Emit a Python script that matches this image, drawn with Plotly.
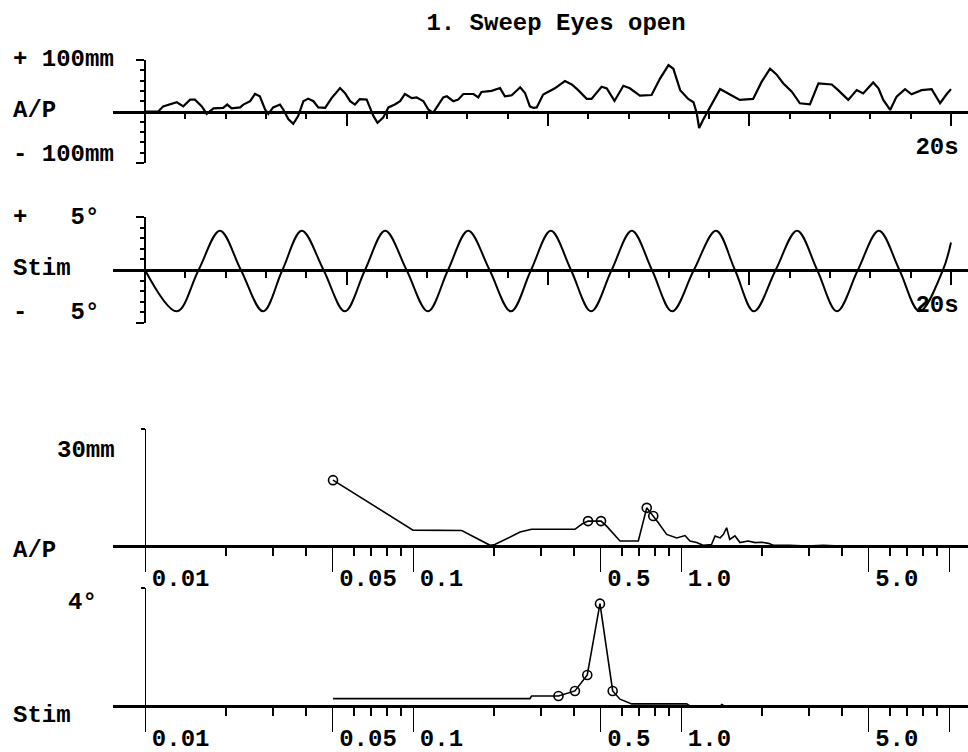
import plotly.graph_objects as go

# ---------------- data ----------------
# Panel 1: A/P sway trace over the 20 s sweep (mm)
ap_t = [0.0, 0.33, 0.45, 0.66, 0.79, 0.95, 1.12, 1.24, 1.41, 1.53,
        1.70, 1.94, 2.04, 2.15, 2.36, 2.44, 2.61, 2.73, 2.85, 2.98,
        3.06, 3.18, 3.35, 3.43, 3.56, 3.68, 3.80, 3.93, 4.05, 4.18,
        4.30, 4.47, 4.63, 4.84, 4.96, 5.09, 5.21, 5.33, 5.50, 5.58,
        5.67, 5.77, 5.91, 6.04, 6.20, 6.33, 6.45, 6.62, 6.74, 6.91,
        7.03, 7.15, 7.28, 7.40, 7.49, 7.65, 7.77, 7.90, 8.15, 8.27,
        8.35, 8.60, 8.81, 8.93, 9.10, 9.31, 9.43, 9.55, 9.64, 9.72,
        9.88, 10.01, 10.17, 10.42, 10.59, 10.75, 10.96, 11.08, 11.33, 11.46,
        11.65, 11.87, 12.03, 12.28, 12.57, 12.78, 12.99, 13.11, 13.28, 13.48,
        13.61, 13.69, 13.75, 13.85, 14.06, 14.27, 14.47, 14.76, 15.09, 15.30,
        15.51, 15.67, 15.84, 16.05, 16.25, 16.50, 16.71, 17.04, 17.20, 17.45,
        17.66, 17.82, 18.07, 18.20, 18.32, 18.49, 18.65, 18.86, 19.02, 19.27,
        19.52, 19.73, 19.89, 20.0]
ap_mm = [0, 0, 10, 15, 18, 10, 23, 23, 10, -4.5,
         6, 7, 13.5, 6, 8, 13.5, 20, 34, 29.5, 4,
         -4.5, 8, 13.5, 4, -15, -24, -9, 20, 25, 20,
         8, 7, 26, 45.5, 36, 20, 13.5, 24, 23, 8,
         -9, -22, -12, 8, 13.5, 20, 34, 26, 27.5, 20,
         4, -2.5, 13.5, 27.5, 29.5, 20, 23, 34, 34, 27.5,
         38, 40, 45.5, 29.5, 31.5, 47, 36, 10, 7, 8,
         33, 39, 45, 59, 52.5, 41.5, 24.5, 24.5, 48, 45,
         20.5, 50, 45, 31, 32, 64, 90, 83, 41.5, 24.5,
         18, -3, -32, -16, 13, 43.5, 35, 22.5, 24.5, 57.5,
         83, 72, 54.5, 38.5, 16, 14, 54.5, 52.5, 41.5, 22.5,
         41.5, 35, 56.5, 45, 22.5, 3, 29, 43.5, 33.5, 41.5,
         43.5, 16, 33.5, 43.5]

# Panel 2: stimulus trace (deg) - read extremes and zero crossings
stim_t = [0.0, 0.79, 1.33, 1.86, 2.38, 2.93, 3.41, 3.89, 4.43, 4.96,
          5.46, 5.96, 6.49, 7.02, 7.52, 8.02, 8.55, 9.08, 9.58, 10.07,
          10.57, 11.07, 11.58, 12.08, 12.58, 13.08, 13.62, 14.17, 14.64, 15.11,
          15.65, 16.18, 16.68, 17.17, 17.69, 18.21, 18.72, 19.22, 19.80, 20.0]
stim_deg = [0, -3.9, 0, 3.7, 0, -3.9, 0, 3.7, 0, -3.9,
            0, 3.7, 0, -3.9, 0, 3.7, 0, -3.9, 0, 3.7,
            0, -3.9, 0, 3.7, 0, -3.9, 0, 3.7, 0, -3.9,
            0, 3.7, 0, -3.9, 0, 3.7, 0, -3.9, 0, 2.6]

# Panel 3: A/P amplitude spectrum (mm) vs frequency (Hz)
apf = [0.0503, 0.100, 0.152, 0.194, 0.202, 0.251, 0.277, 0.402, 0.426, 0.450,
       0.503, 0.528, 0.592, 0.693, 0.745, 0.788, 0.823, 0.884, 0.964, 1.035,
       1.08, 1.144, 1.21, 1.30, 1.34, 1.40, 1.44, 1.48, 1.52, 1.59,
       1.66, 1.78, 1.89, 2.00, 2.12, 2.21, 2.55, 2.94, 3.40, 3.92]
apamp = [16.9, 4.1, 4.0, 0.2, 0.4, 3.6, 4.3, 4.3, 5.6, 6.4,
         6.4, 5.1, 1.3, 1.3, 9.8, 7.7, 6.0, 3.0, 2.1, 2.7,
         1.3, 0.9, 0.2, 0.4, 2.6, 2.1, 3.0, 4.7, 1.7, 2.6,
         0.9, 1.3, 0.9, 1.0, 0.7, 0.2, 0.2, 0.0, 0.2, 0.0]
ap_mark_f = [0.0503, 0.450, 0.503, 0.745, 0.788]
ap_mark_a = [16.9, 6.4, 6.4, 9.8, 7.7]

# Panel 4: stimulus amplitude spectrum (deg)
stf = [0.0503, 0.273, 0.277, 0.349, 0.402, 0.447, 0.4985, 0.556, 0.592, 0.655,
       1.05, 1.08, 1.40, 1.42, 1.45, 1.55]
stamp = [0.25, 0.25, 0.34, 0.34, 0.51, 1.05, 3.47, 0.51, 0.23, 0.07,
         0.07, 0.0, 0.0, 0.05, 0.0, 0.0]
st_mark_f = [0.349, 0.402, 0.447, 0.4985, 0.556]
st_mark_a = [0.34, 0.51, 1.05, 3.47, 0.51]

freq_ticks = [0.01, 0.05, 0.1, 0.5, 1, 5, 10]
freq_labels = ['0.01', '0.05', '0.1', '0.5', '1.0', '5.0', '']
freq_minor = [0.02, 0.03, 0.04, 0.06, 0.07, 0.08, 0.09,
              0.2, 0.3, 0.4, 0.6, 0.7, 0.8, 0.9,
              2, 3, 4, 6, 7, 8, 9]
time_ticks = [0, 5, 10, 15, 20]
time_labels = ['', '', '', '', '20s']
time_minor = [1, 2, 3, 4, 6, 7, 8, 9, 11, 12, 13, 14, 16, 17, 18, 19]

# ---------------- layout helpers ----------------
W, H = 968, 752
def px(p):
    return p / W
def py(p):
    return 1 - p / H

FONT = dict(family='Liberation Mono', size=24, color='black', weight='bold')
BLACK = 'black'

fig = go.Figure()
fig.add_trace(go.Scatter(x=ap_t, y=ap_mm, xaxis='x', yaxis='y', mode='lines',
                         line=dict(color=BLACK, width=2.2)))
fig.add_trace(go.Scatter(x=stim_t, y=stim_deg, xaxis='x2', yaxis='y2', mode='lines',
                         line=dict(color=BLACK, width=2, shape='spline', smoothing=1.0)))
fig.add_trace(go.Scatter(x=apf, y=apamp, xaxis='x3', yaxis='y3', mode='lines',
                         line=dict(color=BLACK, width=1.6)))
fig.add_trace(go.Scatter(x=ap_mark_f, y=ap_mark_a, xaxis='x3', yaxis='y3', mode='markers',
                         marker=dict(symbol='circle-open', size=9, color=BLACK,
                                     line=dict(width=1.6, color=BLACK))))
fig.add_trace(go.Scatter(x=stf, y=stamp, xaxis='x4', yaxis='y4', mode='lines',
                         line=dict(color=BLACK, width=1.6)))
fig.add_trace(go.Scatter(x=st_mark_f, y=st_mark_a, xaxis='x4', yaxis='y4', mode='markers',
                         marker=dict(symbol='circle-open', size=9, color=BLACK,
                                     line=dict(width=1.6, color=BLACK))))

def time_xaxis(pos_px, standoff):
    return dict(domain=[px(113), 1], range=[-0.794, 20.422], anchor='free',
                position=py(pos_px), showline=True, linewidth=2.5, linecolor=BLACK,
                showgrid=False, zeroline=False,
                tickmode='array', tickvals=time_ticks, ticktext=time_labels,
                ticks='outside', ticklen=13, tickwidth=1.5, tickcolor=BLACK,
                tickfont=FONT, ticklabelstandoff=standoff, ticklabelshift=-14,
                minor=dict(tickmode='array', tickvals=time_minor, ticks='outside',
                           ticklen=6, tickwidth=1.5, tickcolor=BLACK, showgrid=False))

def level_yaxis(bot_px, top_px, rng, major, minor_vals):
    return dict(domain=[py(bot_px), py(top_px)], range=rng, anchor='free',
                position=px(145), showline=True, linewidth=1.5, linecolor=BLACK,
                showgrid=False, zeroline=False, showticklabels=False,
                tickmode='array', tickvals=major, ticks='outside', ticklen=8,
                tickwidth=1.5, tickcolor=BLACK,
                minor=dict(tickmode='array', tickvals=minor_vals, ticks='outside',
                           ticklen=4, tickwidth=1.5, tickcolor=BLACK, showgrid=False))

def freq_xaxis(pos_px):
    return dict(type='log', domain=[px(113), 1], range=[-2.1194, 1.0709], anchor='free',
                position=py(pos_px), showline=True, linewidth=2.5, linecolor=BLACK,
                showgrid=False, zeroline=False,
                tickmode='array', tickvals=freq_ticks, ticktext=freq_labels,
                ticks='outside', ticklen=24, tickwidth=1.2, tickcolor=BLACK,
                tickfont=FONT, ticklabelposition='outside right',
                ticklabelstandoff=9, ticklabelshift=5,
                minor=dict(tickmode='array', tickvals=freq_minor, ticks='outside',
                           ticklen=8, tickwidth=1.5, tickcolor=BLACK, showgrid=False))

def amp_yaxis(bot_px, top_px, rng, top_val):
    return dict(domain=[py(bot_px), py(top_px)], range=rng, anchor='free',
                position=px(145), showline=True, linewidth=1.2, linecolor=BLACK,
                showgrid=False, zeroline=False, showticklabels=False,
                tickmode='array', tickvals=[top_val], ticks='outside', ticklen=4,
                tickwidth=1.5, tickcolor=BLACK)

ann = []
def label(text, x_px, y_px, anchor='left'):
    ann.append(dict(text=text, x=px(x_px), y=py(y_px), xref='paper', yref='paper',
                    xanchor=anchor, yanchor='middle', showarrow=False, font=FONT))

label('+ 100mm', 11, 60)
label('A/P', 11, 110)
label('- 100mm', 11, 155)
label('+   5°', 11, 217)
label('Stim', 11, 268)
label('-   5°', 11, 312)
label('30mm', 117, 450, 'right')
label('A/P', 11, 550)
label('4°', 99, 602, 'right')
label('Stim', 11, 715)

fig.update_layout(
    width=W, height=H,
    margin=dict(l=0, r=0, t=0, b=0),
    paper_bgcolor='white', plot_bgcolor='white',
    showlegend=False,
    font=FONT,
    title=dict(text='1. Sweep Eyes open', x=px(556), xanchor='center',
               y=py(22), yanchor='middle', font=FONT),
    xaxis=time_xaxis(111.5, -1),
    yaxis=level_yaxis(163, 60, [-100, 100], [-100, 100],
                      [-80, -60, -40, -20, 20, 40, 60, 80]),
    xaxis2=time_xaxis(270, -2),
    yaxis2=level_yaxis(323, 217, [-5, 5], [-5, 5], [-4, -3, -2, -1, 1, 2, 3, 4]),
    xaxis3=freq_xaxis(546),
    yaxis3=amp_yaxis(550, 429, [-1, 30], 30),
    xaxis4=freq_xaxis(706),
    yaxis4=amp_yaxis(710.4, 588, [-0.15, 4], 4),
    annotations=ann,
)

fig.write_html('out.html', config={'displayModeBar': False},
               post_script="document.body.style.margin='0';document.body.style.overflow='hidden';")
